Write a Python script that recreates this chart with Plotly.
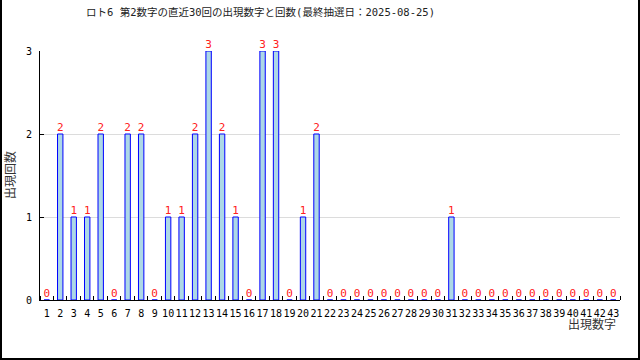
import plotly.graph_objects as go

numbers = list(range(1, 44))
counts = [0, 2, 1, 1, 2, 0, 2, 2, 0, 1,
          1, 2, 3, 2, 1, 0, 3, 3, 0, 1,
          2, 0, 0, 0, 0, 0, 0, 0, 0, 0,
          1, 0, 0, 0, 0, 0, 0, 0, 0, 0,
          0, 0, 0]
tick_labels = [str(n) for n in numbers]
title_text = "ロト6 第2数字の直近30回の出現数字と回数(最終抽選日：2025-08-25)"
x_title = "出現数字"
y_title = "出現回数"

FONT = "DejaVu Sans Mono, Noto Sans CJK JP"
W, H = 640, 360
L, R, T, B = 40, 20, 51, 60
PW, PH = W - L - R, H - T - B

def px(xp):
    return (xp - L) / PW

def py(yp):
    return (H - B - yp) / PH

fig = go.Figure()
fig.add_trace(go.Bar(
    x=numbers, y=counts, width=0.4,
    marker=dict(color="#add8e6", line=dict(color="#0000ff", width=1)),
    hoverinfo="skip",
))
fig.add_trace(go.Scatter(
    x=numbers, y=counts, text=[str(c) for c in counts],
    mode="text", textposition="top center",
    textfont=dict(color="#ff2020", size=11, family=FONT),
    cliponaxis=False, hoverinfo="skip",
))

fig.update_layout(
    width=W, height=H,
    margin=dict(l=L, r=R, t=T, b=B),
    paper_bgcolor="white", plot_bgcolor="white",
    showlegend=False,
    font=dict(family=FONT, size=10, color="black"),
    xaxis=dict(
        range=[0.5, 43.5], tickvals=numbers, ticktext=tick_labels,
        ticks="", showgrid=False, zeroline=False, tickangle=0,
        showline=True, linecolor="black", linewidth=1,
        tickfont=dict(size=10, family=FONT, color="black"),
        ticklabelstandoff=4,
        minor=dict(tickvals=[n + 0.5 for n in [0] + numbers], ticks="inside",
                   ticklen=4, tickcolor="black", showgrid=False),
        fixedrange=True,
    ),
    yaxis=dict(
        range=[0, 3], tickvals=[0, 1, 2, 3], ticks="inside", ticklen=4,
        tickcolor="black", showgrid=True, gridcolor="#dcdcdc", gridwidth=1,
        zeroline=False, showline=True, linecolor="black", linewidth=1,
        tickfont=dict(size=10, family=FONT, color="black"),
        ticklabelstandoff=5,
        fixedrange=True,
    ),
    annotations=[
        dict(text=title_text, xref="paper", yref="paper", x=px(260), y=py(12),
             xanchor="center", yanchor="middle", showarrow=False,
             font=dict(size=10.5, family=FONT, color="#222222")),
        dict(text=x_title, xref="paper", yref="paper", x=px(618), y=py(324),
             xanchor="right", yanchor="middle", showarrow=False,
             font=dict(size=12, family=FONT, color="#333333")),
        dict(text=y_title, xref="paper", yref="paper", x=px(10), y=py(175),
             xanchor="center", yanchor="middle", showarrow=False, textangle=-90,
             font=dict(size=12, family=FONT, color="#333333")),
    ],
    shapes=[
        dict(type="line", xref="paper", yref="paper", x0=px(1), x1=px(1), y0=py(0), y1=py(359),
             line=dict(color="black", width=2)),
        dict(type="line", xref="paper", yref="paper", x0=px(639), x1=px(639), y0=py(0), y1=py(359),
             line=dict(color="black", width=2)),
        dict(type="line", xref="paper", yref="paper", x0=px(0), x1=px(640), y0=py(359), y1=py(359),
             line=dict(color="black", width=2)),
    ],
)

fig.write_html("out.html", config={"displayModeBar": False})
